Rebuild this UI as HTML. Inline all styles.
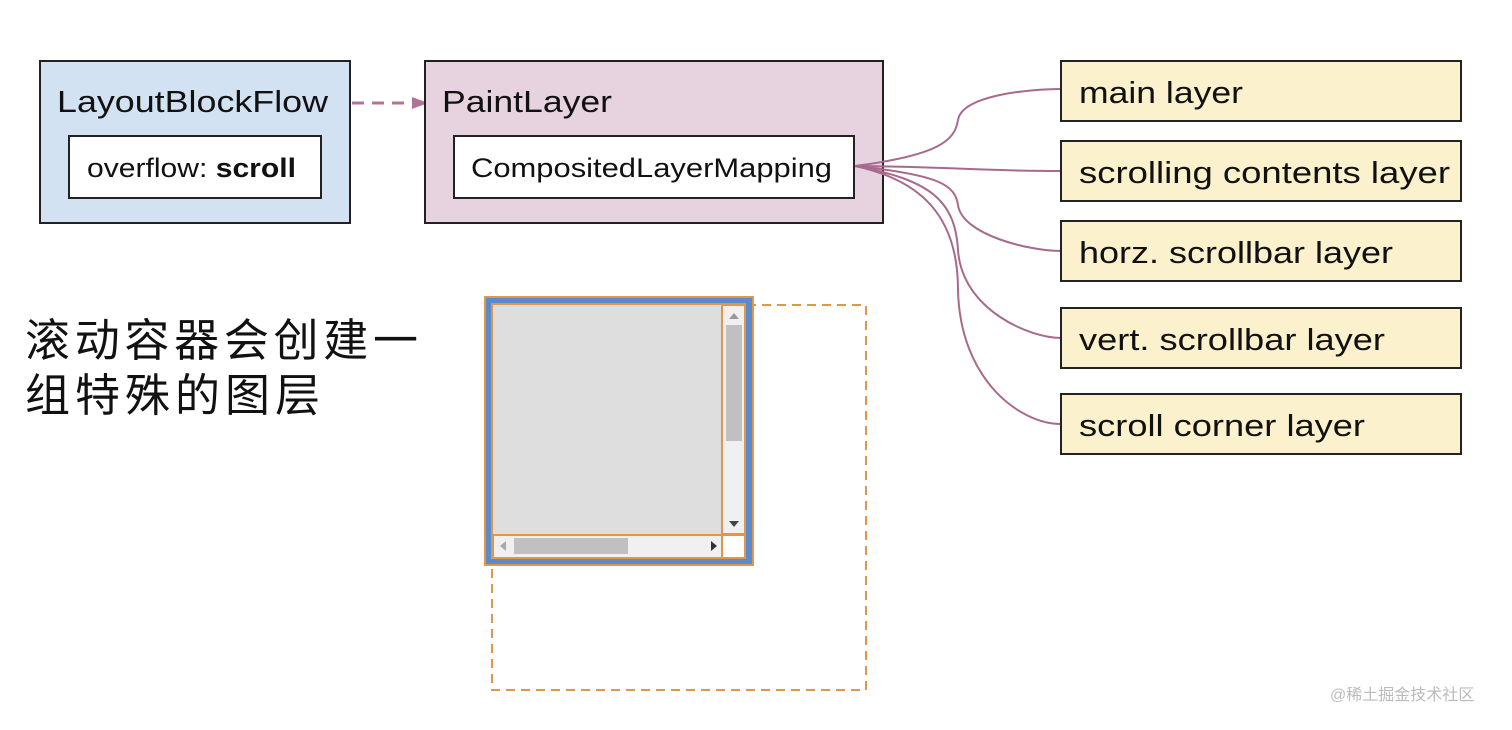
<!DOCTYPE html>
<html><head><meta charset="utf-8"><style>
body{margin:0;background:#fff;}
text{font-family:"Liberation Sans","Noto Sans CJK SC",sans-serif;fill:#111;}
</style></head><body>
<svg width="1512" height="725" viewBox="0 0 1512 725" xmlns="http://www.w3.org/2000/svg">
<rect x="40" y="61" width="310" height="162" fill="#d3e2f2" stroke="#222" stroke-width="2"/>
<text x="57" y="112" font-size="31" textLength="271" lengthAdjust="spacingAndGlyphs">LayoutBlockFlow</text>
<rect x="69" y="136" width="252" height="62" fill="#fff" stroke="#222" stroke-width="2"/>
<text x="87" y="177" font-size="27" textLength="209" lengthAdjust="spacingAndGlyphs">overflow: <tspan font-weight="bold">scroll</tspan></text>
<line x1="352" y1="103" x2="415" y2="103" stroke="#b07595" stroke-width="3" stroke-dasharray="12,8"/>
<polygon points="412,97 428,103 412,109" fill="#b07595"/>
<rect x="425" y="61" width="458" height="162" fill="#e7d3df" stroke="#222" stroke-width="2"/>
<text x="442" y="112" font-size="31" textLength="170" lengthAdjust="spacingAndGlyphs">PaintLayer</text>
<rect x="454" y="136" width="400" height="62" fill="#fff" stroke="#222" stroke-width="2"/>
<text x="471" y="177" font-size="27" textLength="361" lengthAdjust="spacingAndGlyphs">CompositedLayerMapping</text>
<g fill="none" stroke="#a86a8c" stroke-width="2">
<path d="M855,166 C940,155 955,140 958,120 C962,95 1030,89 1061,89"/>
<path d="M855,166 C960,167 980,171 1061,171"/>
<path d="M855,166 C940,175 955,185 958,205 C962,235 1030,251 1061,251"/>
<path d="M855,166 C930,180 955,200 958,250 C962,310 1030,338 1061,338"/>
<path d="M855,166 C920,180 958,215 958,290 C960,380 1020,424 1061,424"/>
</g>
<g stroke="#222" stroke-width="2" fill="#fbf1cd">
<rect x="1061" y="61" width="400" height="60"/>
<rect x="1061" y="141" width="400" height="60"/>
<rect x="1061" y="221" width="400" height="60"/>
<rect x="1061" y="308" width="400" height="60"/>
<rect x="1061" y="394" width="400" height="60"/>
</g>
<g font-size="31">
<text x="1079" y="103" textLength="164" lengthAdjust="spacingAndGlyphs">main layer</text>
<text x="1079" y="183" textLength="371" lengthAdjust="spacingAndGlyphs">scrolling contents layer</text>
<text x="1079" y="263" textLength="314" lengthAdjust="spacingAndGlyphs">horz. scrollbar layer</text>
<text x="1079" y="350" textLength="306" lengthAdjust="spacingAndGlyphs">vert. scrollbar layer</text>
<text x="1079" y="436" textLength="286" lengthAdjust="spacingAndGlyphs">scroll corner layer</text>
</g>
<text x="25" y="356" font-size="45" textLength="393" lengthAdjust="spacing">滚动容器会创建一</text>
<text x="25" y="411" font-size="45" textLength="295" lengthAdjust="spacing">组特殊的图层</text>
<rect x="492" y="305" width="374" height="385" fill="none" stroke="#e0974a" stroke-width="2" stroke-dasharray="9,6"/>
<rect x="485" y="297" width="268" height="268" fill="#5b8bcb" stroke="#e0974a" stroke-width="2"/>
<rect x="492" y="304" width="253" height="254" fill="#dedede" stroke="#e0974a" stroke-width="2"/>
<rect x="722" y="305" width="23" height="229" fill="#f0f0f0" stroke="#e0974a" stroke-width="2"/>
<rect x="726" y="325" width="16" height="116" fill="#c0c0c0"/>
<polygon points="729,319 734,313 739,319" fill="#999"/>
<polygon points="729,521 734,527 739,521" fill="#444"/>
<rect x="493" y="535" width="229" height="23" fill="#f0f0f0" stroke="#e0974a" stroke-width="2"/>
<rect x="514" y="538" width="114" height="16" fill="#c0c0c0"/>
<polygon points="506,541 500,546 506,551" fill="#aaa"/>
<polygon points="711,541 717,546 711,551" fill="#333"/>
<rect x="722" y="535" width="23" height="23" fill="#fff" stroke="#e0974a" stroke-width="2"/>
<text x="1330" y="700" font-size="16" style="fill:#bbb">@稀土掘金技术社区</text>
</svg>
</body></html>
